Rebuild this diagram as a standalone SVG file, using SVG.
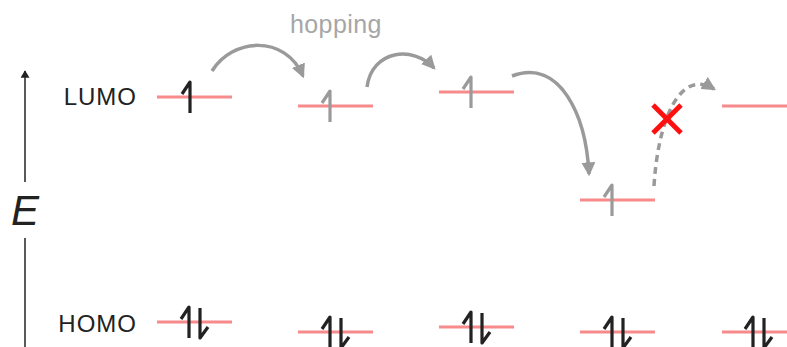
<svg xmlns="http://www.w3.org/2000/svg" width="787" height="347" viewBox="0 0 787 347">
  <style>
    .lvl { stroke: #f78a8a; stroke-width: 3; fill: none; }
    .e { fill: none; stroke-width: 3.2; stroke-linejoin: round; stroke-linecap: butt; }
    .ek { stroke: #222; }
    .eg { stroke: #9a9a9a; }
    .hop { fill: none; stroke: #9a9a9a; stroke-width: 3.5; }
    .lbl { font-family: "Liberation Sans", Arial, sans-serif; font-size: 24px; fill: #222; letter-spacing: 1px; }
  </style>
  <defs>
    <path id="up" d="M0,16V-15L-8,-3"/>
    <path id="dn" d="M0,-14V16L8,5"/>
    <marker id="ah" viewBox="0 0 12 12" refX="10" refY="6" markerWidth="14" markerHeight="14" markerUnits="userSpaceOnUse" orient="auto">
      <path d="M0,0L12,6L0,12z" fill="#9a9a9a"/>
    </marker>
    <marker id="axh" viewBox="0 0 10 12" refX="9" refY="6" markerWidth="10" markerHeight="9" markerUnits="userSpaceOnUse" orient="auto">
      <path d="M0,0L10,6L0,12z" fill="#222"/>
    </marker>
  </defs>

  <!-- energy axis -->
  <g id="axis">
    <line x1="25" y1="182" x2="25" y2="71" stroke="#222" stroke-width="1.5" marker-end="url(#axh)"/>
    <line x1="25" y1="238" x2="25" y2="347" stroke="#222" stroke-width="1.5"/>
    <text x="11" y="225" font-family="Liberation Sans, Arial, sans-serif" font-style="italic" font-size="42" fill="#222">E</text>
  </g>

  <g id="labels">
    <text class="lbl" x="137" y="105" text-anchor="end">LUMO</text>
    <text class="lbl" x="137" y="332" text-anchor="end">HOMO</text>
    <text x="290" y="33" font-family="Liberation Sans, Arial, sans-serif" font-size="25" fill="#a6a6a6" letter-spacing="0.4">hopping</text>
  </g>

  <!-- molecule 1 -->
  <g id="mol1">
    <line class="lvl" x1="157" y1="97" x2="232" y2="97"/>
    <use href="#up" class="e ek" x="190" y="97"/>
    <line class="lvl" x1="157" y1="322" x2="232" y2="322"/>
    <use href="#up" class="e ek" x="189" y="322"/>
    <use href="#dn" class="e ek" x="200" y="322"/>
  </g>

  <!-- molecule 2 -->
  <g id="mol2">
    <line class="lvl" x1="298" y1="106" x2="373" y2="106"/>
    <use href="#up" class="e eg" x="330" y="106"/>
    <line class="lvl" x1="298" y1="332" x2="373" y2="332"/>
    <use href="#up" class="e ek" x="330" y="332"/>
    <use href="#dn" class="e ek" x="341" y="332"/>
  </g>

  <!-- molecule 3 -->
  <g id="mol3">
    <line class="lvl" x1="439" y1="92" x2="514" y2="92"/>
    <use href="#up" class="e eg" x="471" y="92"/>
    <line class="lvl" x1="439" y1="327" x2="514" y2="327"/>
    <use href="#up" class="e ek" x="471" y="327"/>
    <use href="#dn" class="e ek" x="482" y="327"/>
  </g>

  <!-- molecule 4 -->
  <g id="mol4">
    <line class="lvl" x1="580" y1="200" x2="655" y2="200"/>
    <use href="#up" class="e eg" x="612" y="200"/>
    <line class="lvl" x1="580" y1="332" x2="655" y2="332"/>
    <use href="#up" class="e ek" x="612" y="332"/>
    <use href="#dn" class="e ek" x="623" y="332"/>
  </g>

  <!-- molecule 5 -->
  <g id="mol5">
    <line class="lvl" x1="722" y1="106" x2="797" y2="106"/>
    <line class="lvl" x1="722" y1="332" x2="797" y2="332"/>
    <use href="#up" class="e ek" x="753" y="332"/>
    <use href="#dn" class="e ek" x="764" y="332"/>
  </g>

  <!-- hopping connectors -->
  <g id="connectors">
    <path class="hop" d="M212,71 C232,38 285,34 303,76" marker-end="url(#ah)"/>
    <path class="hop" d="M367,87 C372,50 413,45 434,68" marker-end="url(#ah)"/>
    <path class="hop" d="M512,76 C560,58 586,115 589,174" marker-end="url(#ah)"/>
    <path class="hop" d="M654,186 C658,120 680,68 714,89" stroke-dasharray="7,5" marker-end="url(#ah)"/>
    <g id="blocked" stroke="#ff1010" stroke-width="5">
      <line x1="653" y1="105" x2="681" y2="133"/>
      <line x1="681" y1="105" x2="653" y2="133"/>
    </g>
  </g>
</svg>
